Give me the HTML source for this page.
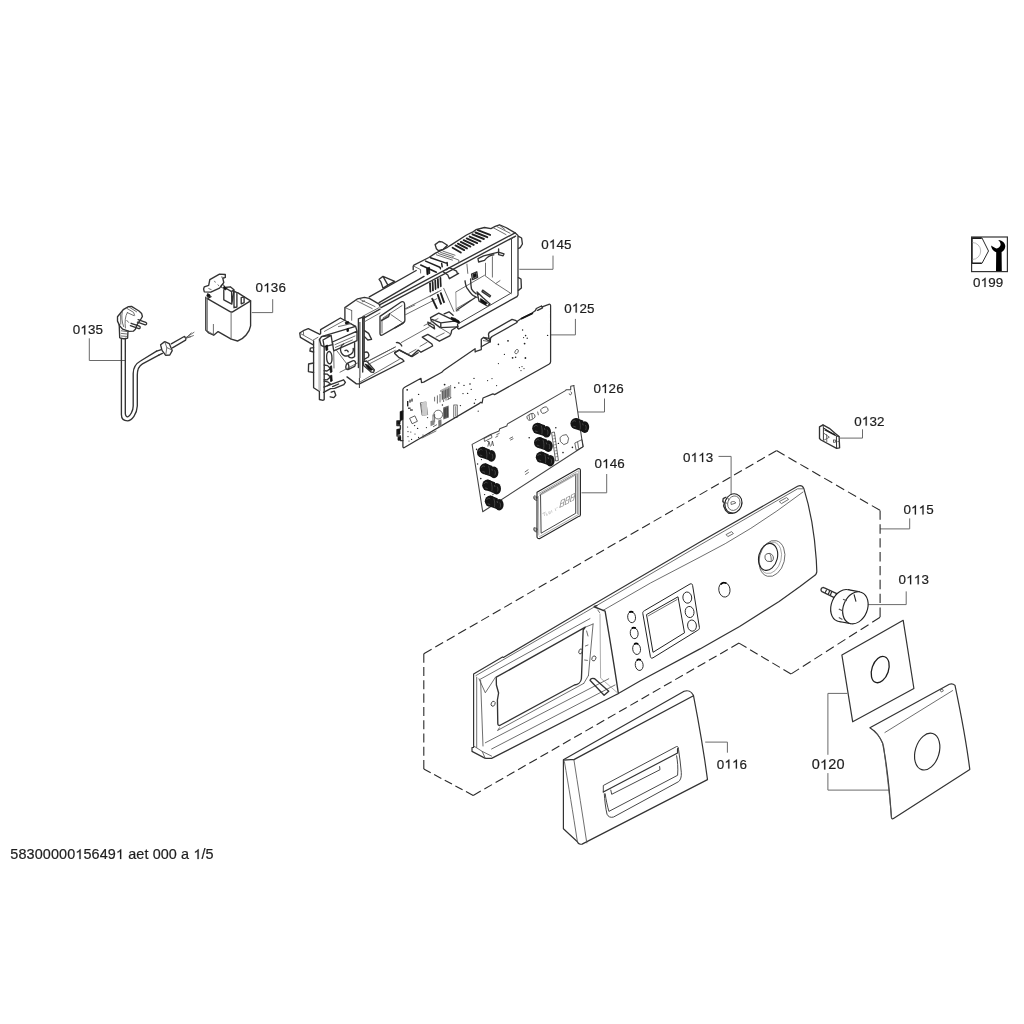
<!DOCTYPE html>
<html><head><meta charset="utf-8">
<style>
html,body{margin:0;padding:0;background:#fff;}
body{width:1024px;height:1024px;overflow:hidden;position:relative;}
svg{position:absolute;left:0;top:0;will-change:transform;}

text{font-family:"Liberation Sans",sans-serif;font-size:13.4px;letter-spacing:0.15px;fill:#1e1e1e;stroke:#1e1e1e;stroke-width:0.2px;}
.l{fill:none;stroke:#333;stroke-width:1.35;stroke-linejoin:round;stroke-linecap:round;}
.t{fill:none;stroke:#555;stroke-width:0.85;stroke-linejoin:round;stroke-linecap:round;}
.g{fill:none;stroke:#777;stroke-width:0.6;}
.ld{fill:none;stroke:#6a6a6a;stroke-width:1;}
.k{fill:#111;stroke:#111;stroke-width:0.8;}
.dash{fill:none;stroke:#2a2a2a;stroke-width:1.1;stroke-dasharray:8 5;}
</style></head>
<body>
<svg width="1024" height="1024" viewBox="0 0 1024 1024">
<g>

<!-- ===== LABELS ===== -->
<g id="labels">
<text x="72.7" y="334.4">0 35</text>
<text x="255.6" y="292.2">0 36</text>
<text x="541.2" y="248.7">0 45</text>
<text x="564.2" y="312.5">0 25</text>
<text x="593.4" y="393.1">0 26</text>
<text x="594.5" y="468.2">0 46</text>
<text x="683" y="462">0  3</text>
<text x="854.2" y="425.6">0 32</text>
<text x="903.4" y="514.4">0  5</text>
<text x="898.6" y="584.3">0  3</text>
<text x="716.8" y="768.6">0  6</text>
<text x="811.7" y="769.4" style="font-size:14.5px;letter-spacing:0.2px">0 20</text>
<text x="973" y="287">0 99</text>
<text x="10.3" y="859.1" style="font-size:14.4px;letter-spacing:0.12px">58300000 5649  aet 000 a  /5</text>
</g>
<defs><path id="one1" d="M763,0 L583,0 L583,1100 Q518,1040 422,985 Q326,930 229,895 L229,1065 Q384,1135 499,1235 Q614,1335 669,1409 L763,1409 Z"/></defs>
<g fill="#1e1e1e" stroke="#1e1e1e"><use href="#one1" transform="translate(80.29,334.40) scale(0.006543,-0.006543)" style="stroke-width:30.6"/><use href="#one1" transform="translate(263.19,292.20) scale(0.006543,-0.006543)" style="stroke-width:30.6"/><use href="#one1" transform="translate(548.79,248.70) scale(0.006543,-0.006543)" style="stroke-width:30.6"/><use href="#one1" transform="translate(571.79,312.50) scale(0.006543,-0.006543)" style="stroke-width:30.6"/><use href="#one1" transform="translate(600.99,393.10) scale(0.006543,-0.006543)" style="stroke-width:30.6"/><use href="#one1" transform="translate(602.09,468.20) scale(0.006543,-0.006543)" style="stroke-width:30.6"/><use href="#one1" transform="translate(690.59,462.00) scale(0.006543,-0.006543)" style="stroke-width:30.6"/><use href="#one1" transform="translate(698.19,462.00) scale(0.006543,-0.006543)" style="stroke-width:30.6"/><use href="#one1" transform="translate(861.79,425.60) scale(0.006543,-0.006543)" style="stroke-width:30.6"/><use href="#one1" transform="translate(910.99,514.40) scale(0.006543,-0.006543)" style="stroke-width:30.6"/><use href="#one1" transform="translate(918.59,514.40) scale(0.006543,-0.006543)" style="stroke-width:30.6"/><use href="#one1" transform="translate(906.19,584.30) scale(0.006543,-0.006543)" style="stroke-width:30.6"/><use href="#one1" transform="translate(913.79,584.30) scale(0.006543,-0.006543)" style="stroke-width:30.6"/><use href="#one1" transform="translate(724.39,768.60) scale(0.006543,-0.006543)" style="stroke-width:30.6"/><use href="#one1" transform="translate(731.99,768.60) scale(0.006543,-0.006543)" style="stroke-width:30.6"/><use href="#one1" transform="translate(819.95,769.40) scale(0.007080,-0.007080)" style="stroke-width:28.2"/><use href="#one1" transform="translate(980.59,287.00) scale(0.006543,-0.006543)" style="stroke-width:30.6"/><use href="#one1" transform="translate(75.28,859.10) scale(0.007031,-0.007031)" style="stroke-width:28.4"/><use href="#one1" transform="translate(115.89,859.10) scale(0.007031,-0.007031)" style="stroke-width:28.4"/><use href="#one1" transform="translate(193.35,859.10) scale(0.007031,-0.007031)" style="stroke-width:28.4"/></g>


<!-- ===== LEADERS ===== -->
<g id="leaders" class="ld">
<polyline points="89.3,338.3 89.3,360.5 125,360.5"/>
<polyline points="272.7,299.2 272.7,312.6 251.8,312.6"/>
<polyline points="553,255.6 553,269.3 519.3,269.3"/>
<polyline points="575.4,318.9 575.4,334.9 550.2,334.9"/>
<polyline points="604.5,398.5 604.5,412 578,412"/>
<polyline points="606.7,474 606.7,492.8 581.5,492.8"/>
<polyline points="718.5,456.4 731.1,456.4 731.1,494.6"/>
<polyline points="862.5,429.3 862.5,438.1 840,438.1"/>
<polyline points="909.7,518.4 909.7,528.9 880.1,528.9"/>
<polyline points="906.2,591.4 906.2,604.6 866.9,604.6"/>
<polyline points="705.2,742.1 727.4,742.1 727.4,752.7"/>
<polyline points="847.3,693.4 827.9,693.4 827.9,754.8"/>
<polyline points="827.9,773.1 827.9,790.1 889.2,790.1"/>
</g>

<!-- ===== DASHED GROUP OUTLINE ===== -->
<g class="dash" style="stroke-dasharray:none"><line x1="776.5" y1="450.6" x2="880.1" y2="510.4" stroke-dasharray="9.36 4.40"/><line x1="880.1" y1="510.4" x2="880.1" y2="617.3" stroke-dasharray="9.44 4.44"/><line x1="880.1" y1="617.3" x2="791" y2="674" stroke-dasharray="9.33 4.39"/><line x1="791" y1="674" x2="739" y2="643.1" stroke-dasharray="8.80 4.14"/><line x1="739" y1="643.1" x2="473.2" y2="795.4" stroke-dasharray="8.80 4.14"/><line x1="473.2" y1="795.4" x2="423.8" y2="769.1" stroke-dasharray="8.18 3.85"/><line x1="423.8" y1="769.1" x2="423.8" y2="653.7" stroke-dasharray="9.04 4.25"/><line x1="423.8" y1="653.7" x2="776.5" y2="450.6" stroke-dasharray="9.02 4.24"/></g>

<!-- ===== 0135 cord ===== -->
<g id="p0135">
<path class="l" d="M121.4,338.4 L121.4,414.5 C121.4,419 124,420.8 127.5,420.8 C132,420.6 136.9,414 137.3,406 L137.3,375 C137.3,369 139.5,365.5 142.5,363.8 L158.8,355.2"/>
<path class="l" d="M125.3,338.4 L125.3,413.5 C125.5,416 126.6,417 127.8,416.8 C130,416.2 133.2,411 133.2,406 L133.2,373.5 C133.2,368 136,363.5 140.5,361 L156.6,351.2"/>
<path class="l" d="M156.6,351.2 L160.6,349.8 M158.8,355.2 L162.4,353.4"/>
<path class="l" d="M160.6,344.8 L164.7,341.6 L169.2,343.6 L172.2,350.6 L169.8,355 L165.7,355.4 L162,350.4 Z"/>
<path class="t" d="M164.7,341.6 L166.8,347.6 L165.7,355.4 M166.8,347.6 L172,350"/>
<path class="l" d="M171.2,343.9 L184.2,336.5 M172.4,347.8 L185.6,340.2 M184.2,336.5 C185.6,337 186.2,339 185.6,340.2"/>
<path class="t" d="M185.4,338 L194,332.3 M185.4,338.6 L193.4,335.6 M185.6,338.4 L191.2,333 M185.2,337.6 L190.6,336.8"/>
<path class="l" d="M117.5,321.1 L117.5,316.7 L123.2,309.7 L128.5,306.6 L131.5,306.4 L139,311 L141.6,313.4 L142.4,316.5 L141,318.8 L138.6,322.4 L136.8,325.2 L135.4,329.2 L133.3,331.2 L128.9,331.4 L122.7,329.2 L119.6,325.6 Z"/>
<path class="t" d="M120.6,314.6 L120.8,324.2 M122.2,312 C121.4,316 121.8,322 123.6,326.6 M127.3,312.6 C125.2,316 124.6,322 125.4,328 M127.2,308.6 L133.6,312.4 L134.6,315.4 M129.6,307.4 L136.6,311.8 M127.3,312.6 L133.8,315.6 M126.8,320.4 L128.6,322.4"/>
<path class="l" d="M138.1,319.6 L145.8,322.4 C147.2,323 146.8,325 145.2,324.8 L137.4,322.2 M131.1,323.3 L139.4,326.2 C140.8,326.8 140.2,329 138.8,328.6 L130.4,325.6"/>
<path class="l" d="M119.2,324.6 L119.7,337.8 C121.5,339 126,339 127.6,338.2 L128,330.8"/>
<path class="t" d="M121.4,330.8 L127.1,331.6 M121.2,333.4 L127.1,334 M121.2,336 L127.1,336.4"/>
</g>

<!-- ===== 0136 capacitor ===== -->
<g id="p0136">
<path class="l" d="M207.4,298.6 L229.6,311.4 C230.8,312.2 232,312.2 233,311.6 L250.6,300.9 L250.6,325.8 C249.6,332 244,339 237.6,341 L231.2,339.2 L218.1,331.6 L213.7,335.2 L208.7,333 L205.8,330.1 L205.8,297.2"/>
<path class="l" d="M250.6,300.9 L237.6,292.6 M207.4,298.6 L211,296.6"/>
<path class="t" d="M231.1,312.6 L231.1,339.2 M213.4,324.4 L213.4,334.5 M207.3,296.6 L207.3,330.4 M205.8,330.1 L213.4,334.5"/>
<path class="l" d="M203.6,289 L204.3,286.8 L208.7,285.3 L209.8,279.6 L219.5,274.1 L225.3,274.5 L225.3,277.4 L222.8,278.4 L223.8,282.5 L221.7,285.3 L219.5,288.2 L210.8,292.2 L204.3,291.8 Z"/>
<path class="t" d="M208.8,288.6 L211.2,289.6 M214.6,281.2 L215.2,282.2 M218,284.8 L218.6,285.6 M221.4,277 L224.2,277.6"/>
<circle cx="222.6" cy="286.2" r="1.6" fill="none" stroke="#222" stroke-width="0.9"/>
<path class="l" d="M223.8,290.4 L223.8,299.8 L231.8,304.1 L233.4,294.2 L234,289.7 L230.3,286.8 L224.6,287.5 Z M224.6,287.5 L231.6,291.6 L234,289.7 M231.6,291.6 L231.8,304.1"/>
<path class="l" d="M234,291.1 L236.9,292.6 L236.9,307 L234,307.7 Z M241.2,297.6 L244.1,296.9 L244.1,302.7 L241.2,303.8 Z"/>
<path class="k" d="M207.6,293.6 L210.2,295 L209.4,297.2 L206.8,296 Z M224.4,286.2 L226.6,288.6 L225.6,290 L223.6,288.4 Z"/>
</g>

<!-- ===== 0145 frame ===== -->
<g id="p0145">
<!-- left tab + post -->
<path class="l" d="M312.8,344.6 L300.4,337.3 L299.7,333 L303.3,330.7 L308.3,328.6 L319.9,334.4"/>
<path class="t" d="M300.6,333.6 L312.6,340.4 L318,337.3 M303.3,330.7 L303.6,334.6"/>
<path class="l" d="M313.6,341 L313.6,387.8 L319.4,391.5 L319.4,399.5 L323.1,400.3 L324.2,399.6 L324.2,346.8"/>
<path d="M319,339.6 L319,391 M320.2,339 L320.2,391" stroke="#777" stroke-width="0.6" fill="none"/>
<path class="l" d="M319.4,339.5 L321.6,336.6 L331.1,335.4 L332.6,344.6 L324.2,346.8 L321.2,345.4 L319.4,339.5 M324.2,346.8 L323,340 L331.1,335.4"/>
<path class="l" d="M313.6,347.6 L310.4,348.2 L309.9,351 L313.6,352 M313.6,363 L308.6,364 L308.4,371.6 L313.6,372.5"/>
<path class="l" d="M328.6,351.6 C326.8,352.2 326.4,356 326.8,359.6 C327.2,362.6 328.8,364.2 330.4,363.6 C331.8,362.6 332.2,359 331.8,355.6 C331.4,352.6 330,351.2 328.6,351.6 Z"/>
<path class="l" d="M324.2,365 L327.6,365.6 L330.4,368.6 L327,371 L324.2,370.6 M324.2,374 L327.4,374.2 L330.4,377 L327.2,379.8 L324.2,379.6 M324.2,381.2 L327.6,381.8 L330.4,384 L327.4,385.6"/>
<path class="l" d="M323.8,387.1 L343.6,379.8 L345.4,382.4 L343.8,384.6 L334.6,388.4 L330.6,388.6 L323.6,392.4 M332.6,386.6 L338.6,384"/>
<path class="l" d="M331.2,392.2 L334.4,391.2 L335.8,395.2 L333.8,397.6 L330.2,396.8"/>
<path class="k" d="M325.6,345.8 L327.4,345 L327.8,350 L326,350.6 Z M330,366.4 L331.6,365.8 L332,372 L330.4,372.6 Z M330.2,375.8 L331.8,375.2 L332.2,381 L330.6,381.6 Z"/>
<!-- block A -->
<path class="l" d="M320.6,333.6 L320.6,329.6 L340.4,318 L355.6,326.3 M321.4,336.6 L355.6,326.3 M332.4,342 L357,331.1 L357,340.7 L333.7,350.9 L332.4,342 M355.6,326.3 L357,331.1"/>
<path class="t" d="M324.4,331.4 L344.4,320.4 M338.4,326.6 L351.4,323.6 M335,344.6 L355,336 M335.4,347.4 L352.4,340"/>
<path class="l" d="M343.6,344 C340.6,345.6 339.6,349.6 341.2,352.6 C342.4,355.4 345.4,356.8 348,355.6 L350.6,354.4 C352.6,353.2 353.6,351 353.2,348.4 M345,350.6 C346.4,349.6 347.8,350.4 348.2,351.8 M348,355.6 C349,357.6 351,358.4 353.4,357.4 L354.6,356.4 L354.6,342.6"/>
<path class="l" d="M346.6,363.6 L352.6,360.8 C354.8,360 356.2,362.2 355.4,364.6 L354.6,366.4 L348.6,369.4 C346.6,370 345.6,368.6 345.8,366.6 Z M346.6,363.6 C348.6,363.2 349.4,365.6 348.6,369.4"/>
<path class="t" d="M333.7,350.9 L334,368 M336,349.6 L346.6,363.6"/>
<path class="k" d="M345.2,322.6 L348.4,321.6 L348.8,323.2 L345.8,324.2 Z M346.8,329 L348.4,328.4 L348.6,331.2 L347,331.6 Z"/>
<!-- block B -->
<path class="l" d="M344.9,320.3 L344.9,307.6 L357.6,298.8 L364.4,297.4 L369.3,298.3 L379.1,304.2 L380,306.2"/>
<path class="t" d="M351.7,310.5 L351.7,320.3 M344.9,307.6 L351.7,310.5 M356.6,300.8 L372.2,308.6 M360,299.4 L375,306.6 M362.2,301.8 L364.6,300.8"/>
<!-- vertical post 2 -->
<path class="l" d="M358.4,318.8 L358.4,367.5 M362.7,318 L362.7,372 M364.2,317.4 L364.2,361.25 M358.4,318.8 L364.5,316.4"/>
<path d="M359.9,322 L359.9,378 M359.4,378 L359.4,388" stroke="#222" stroke-width="0.9"/>
<path class="l" d="M364.5,330.6 L368.6,333.4 L371.6,339.4 L367.8,340 L364.5,336.6 M364.5,352.4 C367.6,351 369.8,353.6 368.4,357 L364.5,359.2"/>
<path class="l" d="M347,376.9 L356.4,383.9 L359.5,383.9 L404,361.25 L402.5,359.3 L398.6,357.3 L394.7,353.4 L394.7,352.3 L399.4,349.9 L411.9,356.6 L418.1,352.7"/>
<path class="t" d="M359.5,382.3 L399.4,359.3 M340,372.2 L358,362.8 M368.1,361.25 L395.3,347"/>
<path class="l" d="M363.4,361.6 L366.6,361 L374.4,370 L373.6,372.4 L371,372 L363.6,365.6 Z"/>
<path class="k" d="M365,364 L368.6,365.4 L373.4,370.4 L372.6,371.6 L368,368.6 Z"/>
<circle cx="372.4" cy="370.8" r="0.9" fill="#fff"/>
<!-- box C -->
<path class="l" d="M380,316.4 L401.5,301.8 C403.4,301 404.6,302.6 404.6,304.6 L404.9,320.3 C404.9,321.8 404,322.8 402.5,323.4 L382.4,335 C381,335.6 380,335 380,333.6 Z"/>
<path class="t" d="M381.8,319.8 L388.8,315.2 M382,319.8 L382,333 M390.8,314.5 L402.5,322.6 M383,318 L402,305.6"/>
<path class="l" d="M381.4,320.6 L388.6,316.6 L389.6,313.6"/>
<!-- rails -->
<path class="l" d="M369.3,296.9 L416.2,270.5 M379.1,302.7 L424,276.4 M380,304.7 L515.1,232.9 M381,307.6 L515.6,236.1 M363.4,318.4 L380,309.2"/>
<path class="t" d="M362.5,316.4 L379.1,307.6 M364,322 L380,313"/>
<path class="l" d="M379.1,279.3 L383,276.4 L394.7,281.3 L387.9,285.2 L383,288.1 L381,282.2 Z M383,276.4 L387.9,285.2"/>
<!-- housing D + ribbed top -->
<path class="l" d="M413.2,269.8 L413.2,266.4 L413.9,265.1 L428.9,257.5 L435.1,253.4 L447.4,247.3 L452.8,243.9 L466.5,235 L473.4,231.6 L475.9,229.7 L484.5,227.5 L490.9,228.6 L495.2,226.4 L499.5,224.8 L505.9,227.5 L515.1,232.9"/>
<path class="l" d="M435.1,244.6 L439.2,241.5 L441.9,241.8 L447.4,245.2 L443.3,249.3 L438.5,250.7 L436.4,248.7 Z"/>
<path d="M452.6,247.8 L460.8,252.5 M455.5,245.4 L464.2,250.1 M457.9,243.7 L467.0,248.4 M460.8,241.9 L470.4,246.6 M463.7,240.2 L473.7,244.9 M466.7,238.4 L477.2,243.1 M469.6,236.6 L480.5,241.3 M472.5,234.3 L483.9,239.0 M475.5,232.5 L487.3,237.2 M477.8,230.2 L490.1,234.9" fill="none" stroke="#222" stroke-width="1.9" stroke-linecap="round"/>
<path class="l" style="stroke-width:1.5;stroke:#222" d="M420.7,265 L436.4,272.3 M425.6,261.1 L439.3,267 C440.2,267.4 440.6,268 440.4,268.8 M430.5,257.7 L446.1,263.1 M441.7,263.6 L442.2,266.8 M447.1,262.6 L447.4,265.6"/>
<path class="t" d="M436.4,254.8 L452.5,260.1 M438.6,253.6 L452,258 M440.6,252.4 L453.4,256.6 M443,251.2 L455,255.2 M452.5,257.7 L458.8,260.1 L458.8,262.6"/>
<path class="t" d="M413.4,266 L420.6,269.6 L420.6,273"/>
<path class="k" d="M426.6,268.4 L427.8,268 L428.2,274.4 L427,274.8 Z M428.4,267.6 L429.4,267.2 L429.8,273.4 L428.8,273.8 Z"/>
<path class="l" d="M446,269.9 L449.4,267.6 L456.6,271.2 L457.6,274 M443,271.6 L447.8,275 L449.4,278.7 L458.6,273.4"/>
<path class="t" d="M493.4,227.8 L506,234.6 M497,226.6 L510,233.2 M500,225.6 L505,229.6"/>
<!-- right box -->
<path class="l" style="stroke-width:1.3" d="M515.6,233.3 L518,235.4 L518,295 L517,296.6 L458.6,329.1 L457.6,328.2 L457.6,324"/>
<path class="l" d="M518.6,236.4 L521.6,238 L522.4,244 L520.2,247.6 L518.6,248.4 M518.4,277.6 L521,279 L521.4,288 L518.4,290.4"/>
<path class="t" style="stroke:#444;stroke-width:1" d="M511.5,238.6 L511.5,292.9 L458.4,323.6 M511.5,238.6 L515.4,236.4"/>
<path class="t" d="M455.8,292 L484.5,275.3 L495.7,283.6 L511.5,293.8 M485.5,263.2 L485.5,275.3 M492.4,256.7 L492.4,277.1 M443.7,288.3 L453.9,311.5 M456.2,308.7 L470.6,300.3 M495.7,283.6 L500,280.6 M466.9,264.1 L467.8,273.4"/>
<path d="M455.8,292 L456.2,311.5 M456.2,311.5 L459.6,310" fill="none" stroke="#999" stroke-width="1"/>
<path class="l" d="M456.7,310.2 L475.3,297.5"/>
<path class="l" d="M478,258.6 L483.6,255.8 L498.5,252.1 L504,253.9 L503.1,255.8 L498.6,254.6 M484.5,260.4 C487,257 490,255 493.8,254.8 M478,258.6 L478.6,262 L484.5,260.4 M498.6,249 L498.6,254.6"/>
<path class="l" d="M465,280.8 C465.6,285 466.4,288 467.8,289.2 C469.6,292 471.6,294.6 473.4,295.7 L477.1,297.5 M470.6,279 C470.8,284 471,287 471.6,289.2 C473,291.6 474.6,293 476.2,293.8"/>
<path class="l" d="M477.1,292 L482.7,297.5 L490.1,304 L487.3,305.9 L479,301.2 Z"/>
<path class="k" d="M480.6,298.6 L486.6,302.6 L488.4,304.4 L486.6,305.2 L480.6,301.6 Z"/>
<circle cx="487.3" cy="304.6" r="1" fill="#fff"/>
<path class="l" d="M482.7,290.1 L490.6,295.7 L489.8,297 L482,291.6 Z"/>
<path class="l" d="M471.6,274.2 L476.8,271.8 L477.6,277.4 L472.4,279.6 Z"/>
<path class="k" d="M473,274.6 L476,273.4 L476.4,276.6 L473.4,277.8 Z"/>
<!-- tongue / floor -->
<path class="l" d="M430.5,317.6 L438.75,313.2 L459.25,322.8 M430.5,317.6 L431.2,320.7 L440.1,327.6 L457.9,326.9 M440.8,322.8 L440.8,327.6 M431.9,319.4 L440.8,322.8 L457.9,320.6"/>
<path class="l" d="M444.2,313.9 L449,311.8 L453.1,315.3"/>
<path class="k" d="M451,317.3 L455,318.4 L459.3,321.2 L459.3,322.8 L455.6,321.8 L451.6,319.4 Z"/>
<path class="l" d="M457.9,326.2 L451.7,330.3 L451,333.7 L449.7,335.8 L439.4,341.2 L427.8,334.4 L422.3,337.1 L431.9,344 L432.6,346 L421,352.2 L418.2,350.1 L411.4,356.3 L399.1,350.1 L395,352.8"/>
<path class="t" d="M436,337.1 L444.2,333 M427.1,342.3 L420,346.4 M408.7,353.5 L416,349.4 M440.1,327.6 L449.6,333.4"/>
<path class="l" d="M427.8,322.1 L434,325.5 L434.6,328.9 L428.5,324.8 Z"/>
<path class="l" d="M396.4,342.6 C398,342 400.6,343.6 401.8,346"/>
<path class="t" d="M401.2,342.6 L429.2,326.9 M405.9,309.1 L414.8,305 M366.6,361.8 L395.3,347 M368,364.6 L395.3,350.4 M405.4,308.6 L437.7,292 M404.9,315 L437,298.6"/>
<path class="l" d="M404.6,321.4 L403.2,323.1 L395,327.9"/>
<!-- connector pins -->
<path class="k" d="M429.6,283 L430.4,282.8 L430.8,292 L430,292.2 Z M432.2,281.6 L433,281.4 L433.4,290.8 L432.6,291 Z M434.8,280.2 L435.6,280 L436,289.4 L435.2,289.6 Z M437.4,278.8 L438.2,278.6 L438.6,288 L437.8,288.2 Z M440,277.6 L440.8,277.4 L441.2,286.6 L440.4,286.8 Z"/>
<path class="k" d="M431.6,298.6 L432.6,298.2 L437.4,308.4 L436.4,308.8 Z M437.2,294.6 L438.2,294.2 L441.6,304 L440.6,304.4 Z M440.2,293 L441.2,292.6 L444.6,302.4 L443.6,302.8 Z"/>
<path class="t" d="M430,296.4 L436,293 L441.2,290.2 M424,325.6 L438,318.6"/>
</g>

<!-- ===== 0125 PCB ===== -->
<g id="p0125">
<path class="l" style="stroke-width:1.25" d="M404,447.7 L479.5,403.4 L480.6,402.3 L482.1,402.9 L483,398 L492.9,393.8 L494.6,394.6 L548.9,364.3 C550,363.6 550.6,362.8 550.6,361.8 L550.6,305.6 C550.6,304.6 549.8,304 548.9,304.3 L542.2,306.8 M535.5,310.6 L532.1,313.1 L521.2,318.6 L517,321.5 M490.2,341.7 L481.3,346.7 L481.3,349.6 L476,351.4 L475.1,352 L475.1,348.7 L443.4,370.6 L441.8,372.3 L423.7,382.1 L421.5,382.6 L421,378.3 L405.1,387 C403.6,387.8 402.9,388.4 402.9,389.6 L402.9,446.6 C402.9,447.4 403.4,447.9 404,447.7"/>
<path class="l" d="M542.2,306.8 L541.4,306 L536.3,308.5 L535.5,310.6 M541.4,306 L542.6,307.8 L537.6,310.4"/>
<path class="l" d="M517,321.5 L515.4,320.3 L512,319.4 L489.3,332.4 L488.5,334.1 L488.9,338.3 L490.2,341.7 M517,321.5 L517,322.5 L492,336.5 L490.6,338 L490.2,341.7"/>
<path class="l" d="M488.9,338.3 L483.4,337.5 L481.3,339.2 L481.3,346.7 M483.4,337.5 L490.2,341.7"/>
<path class="t" d="M483.4,340.6 L488.6,341.4"/>
<path class="k" d="M532.6,312.8 L521.2,318.2 L521.4,319.2 L532.8,313.8 Z"/>
<!-- left connector -->
<path class="l" d="M402.9,411 L400.4,412 L400.4,421 L396.9,421 L396.9,425.6 L400.4,425.6 L400.4,429 L397,429.6 L397,436 L400.4,436 L400.4,440.6 L402.9,440.6"/>
<path class="k" d="M400.6,412 L402.8,411.4 L402.8,419.6 L400.6,420.4 Z M397.4,429.8 L400,429.2 L400,434 L397.4,434.6 Z M397.4,421.2 L400,421.2 L400,424.4 L397.4,424.4 Z M398,437.2 L400.6,437 L400.6,440 L398,440.2 Z"/>
<!-- components -->
<g fill="none" stroke="#333" stroke-width="0.7">
<rect x="421.2" y="402.4" width="5.6" height="12.6" transform="rotate(-8 424 408.7)"/>
<rect x="422.4" y="404" width="3.4" height="9.4" transform="rotate(-8 424 408.7)"/>
<rect x="410.6" y="416.8" width="5.8" height="6" transform="rotate(-25 413.5 419.8)"/>
<circle cx="438.2" cy="414.6" r="4.4"/>
<rect x="453.8" y="405" width="3.4" height="12.6"/>
<rect x="455" y="406.2" width="1.2" height="10.4" fill="#999" stroke="none"/>
<path d="M443.6,389 L443.6,402 M446,387.6 L446,400.6 M448.4,386.4 L448.4,399.4 M450.6,385 L450.6,398.2 M437.4,395.4 L437.4,403.6 M440,394 L440,402.4 M434.6,396.8 L434.6,401.4"/>
<path d="M433,414.6 L433,423 M434.6,414 L434.6,422.4 M444.4,408.4 L444.4,419 M446.2,407.6 L446.2,418 M447.8,406.8 L447.8,417.2"/>
<ellipse cx="516.6" cy="351.6" rx="1.5" ry="2.3" transform="rotate(30 516.6 351.6)"/>

</g>
<g fill="#222">
<rect x="407" y="401" width="1.4" height="5.4"/><rect x="409.4" y="399.6" width="1.2" height="3"/><rect x="411.4" y="398.6" width="1.2" height="3"/>
<rect x="408" y="407.6" width="2.6" height="1.2"/><rect x="410" y="409.4" width="2.8" height="1.2"/>
<circle cx="407.2" cy="389.8" r="0.9"/><circle cx="418.6" cy="394.4" r="0.7"/><circle cx="444.6" cy="384.6" r="0.9"/><circle cx="441" cy="391" r="0.7"/>
<circle cx="454.8" cy="387.6" r="0.8"/><circle cx="458.8" cy="383" r="0.7"/><circle cx="464" cy="385.4" r="0.7"/><circle cx="470" cy="384" r="0.8"/><circle cx="474" cy="378.4" r="0.7"/>
<circle cx="463" cy="393.6" r="0.7"/><circle cx="467.6" cy="393.4" r="0.7"/><circle cx="474.4" cy="403.2" r="0.8"/><circle cx="460.4" cy="405.6" r="0.7"/><circle cx="442.4" cy="405" r="0.7"/>
<circle cx="427.6" cy="417.6" r="0.6"/><circle cx="414.6" cy="425.6" r="0.7"/><circle cx="417.6" cy="428.4" r="0.7"/><circle cx="407.6" cy="427" r="0.6"/><circle cx="408" cy="431.6" r="0.6"/><circle cx="410.8" cy="432" r="0.6"/><circle cx="415" cy="434" r="0.6"/><circle cx="408" cy="436.6" r="0.6"/><circle cx="411.6" cy="439.4" r="0.6"/><circle cx="418.6" cy="437.4" r="0.6"/><circle cx="409" cy="441" r="0.6"/>
<circle cx="429.6" cy="433" r="0.6"/><circle cx="423" cy="435" r="0.6"/><circle cx="431.4" cy="421.4" r="0.6"/><circle cx="426.4" cy="427.6" r="0.6"/>
<circle cx="498.4" cy="344.4" r="0.8"/><circle cx="508" cy="340.8" r="0.9"/><circle cx="504.4" cy="354.4" r="0.6"/><circle cx="498.4" cy="363.6" r="0.6"/><circle cx="515.6" cy="357.2" r="0.8"/>
<circle cx="522.6" cy="330" r="0.7"/><circle cx="523.6" cy="337.6" r="0.6"/><circle cx="525.6" cy="335.6" r="0.8"/><circle cx="527.2" cy="338.2" r="0.7"/><circle cx="524.6" cy="343.6" r="0.9"/>
<circle cx="512.6" cy="357.8" r="0.9"/><circle cx="525.4" cy="358" r="0.9"/><circle cx="522" cy="366.6" r="0.6"/><circle cx="519.4" cy="367.6" r="0.6"/><circle cx="524" cy="368.6" r="0.6"/><circle cx="521" cy="370.6" r="0.6"/>
<circle cx="487.6" cy="380.6" r="0.6"/><circle cx="492" cy="378.6" r="0.6"/><circle cx="496.6" cy="385.6" r="0.6"/><circle cx="547.6" cy="335.4" r="0.7"/>
<circle cx="475.6" cy="399.6" r="0.6"/><circle cx="471.2" cy="389.4" r="0.6"/><circle cx="478.2" cy="411.2" r="0.6"/>
</g>
<path class="t" d="M422,438 L436,431 M433.4,426.6 L436.6,424.8 M447.6,399.6 L451,397.8"/>
<g fill="#555">
<path d="M441.4,389.6 L450.8,385.6 L451,396.6 L441.6,400.6 Z" fill="#aaa"/>
<path d="M443.2,407.6 L448.6,405.6 L448.8,417.4 L443.4,419.4 Z" fill="#666"/>
<path d="M438.2,420.4 L441.4,419.2 L441.6,426 L438.4,427.2 Z" fill="#777"/>
<path d="M421.6,402.6 L426.8,401.4 L427.6,414.8 L422.4,416 Z" fill="#ccc"/>
<path d="M430.4,421.6 L434.4,420 L434.6,424.6 L430.6,426.2 Z" fill="#888"/>
</g>
<g stroke="#222" stroke-width="0.6" fill="none">
<path d="M442.4,391 L442.4,399.4 M444,390.4 L444,398.8 M445.6,389.6 L445.6,398 M447.2,389 L447.2,397.4 M448.8,388.2 L448.8,396.6"/>
<path d="M444.2,408.6 L444.2,418 M445.8,408 L445.8,417.4 M447.4,407.4 L447.4,416.8"/>
</g>
</g>

<!-- ===== 0126 PCB with knobs ===== -->
<defs>
<g id="knob">
<ellipse cx="-3.8" cy="-1.4" rx="5.4" ry="5.6" fill="#151515"/>
<path d="M-3.8,-7 L3.6,-4.4 L5.6,7.4 L-3.8,4.2 Z" fill="#151515"/>
<ellipse cx="5.2" cy="2.1" rx="4.4" ry="5.8" fill="#151515"/>
<path d="M-7.4,-2.6 C-6.6,-4.6 -4.8,-4.8 -3.8,-3.6 M-6.4,1.2 L-3.8,2 M-0.2,-4.2 C0.8,-1 1,2 0.4,4.6 M3,-1.6 L3.6,0.4 M5.8,0 C6.8,1.6 6.8,3.6 6,5" stroke="#666" stroke-width="0.55" fill="none"/>
</g>
</defs>
<g id="p0126">
<path class="l" style="stroke:#444;stroke-width:1.05" d="M574.1,385.6 L573.8,385.7 L583,446.8 L482.7,511.7 L472.1,444.4 L490.5,434.5 L499,431 L499.7,428.8 L506.8,426 L507.5,423.9 L565.5,390.6 L566.3,389.7 L570.7,389.7 L570.7,386.2 Z"/>
<use href="#knob" x="486.2" y="453.8"/>
<use href="#knob" x="488.8" y="470.3"/>
<use href="#knob" x="491.4" y="486.6"/>
<use href="#knob" x="494" y="502.6"/>
<use href="#knob" x="541.4" y="429.7"/>
<use href="#knob" x="543.2" y="444"/>
<use href="#knob" x="545" y="458.6"/>
<use href="#knob" x="579.6" y="425"/>
<g fill="none" stroke="#2a2a2a" stroke-width="0.7">
<path d="M562.6,435.4 L566.4,434.6 L568.6,438.2 L567.6,443 L563.8,444.6 L560.4,441.6 L560,437.6 Z"/>
<path d="M574.8,443 L582,439.6 L583.4,446.6 L576.2,450.4 Z M577.6,441.8 L578.6,448.6"/>
<rect x="526.8" y="414" width="8.4" height="5.6" rx="2.8" transform="rotate(-28 531 416.8)"/>
<rect x="540.6" y="407.4" width="7.6" height="5.4" rx="2.7" transform="rotate(-28 544.4 410.1)"/>
<path d="M529,415 L529.6,419.6 M531.8,414 L532.4,418.6 M537.6,411.6 L538.4,415.2"/>
<path d="M551.6,432.6 L554.4,432 L558.4,460.4 L555.6,461 Z"/>
<path d="M487.8,446.6 L489,441.6 L490.4,446.6 M491.6,445.6 L492.4,441 L493.6,446"/>
<path d="M484,438.6 L491.4,434.8 L492,437.6 L484.6,441.4 Z"/>
<path d="M496.4,434.8 L499.6,433.2 M495.4,437.4 L498.2,435.8"/>
<path d="M509.4,438.6 L513,436.8 M510.2,440.2 L513.4,438.6"/>
<path d="M524.8,472 L528.4,469.6 M525.2,474.6 L528.8,472.2"/>
<path d="M491.6,492.8 L494.4,491.2 M492,495 L494.8,493.4"/>
<path d="M570.6,391.6 C571.6,392 572,393.6 571,394.6 C570,395.2 569,394.4 569.2,393.4"/>
</g>
<g fill="none" stroke="#444" stroke-width="0.5">
<path d="M552.4,436 L555.2,435.4 M552.8,439 L555.6,438.4 M553.2,442 L556,441.4 M553.6,445 L556.4,444.4 M554,448 L556.8,447.4 M554.4,451 L557.2,450.4 M554.8,454 L557.6,453.4 M555.2,457 L558,456.4"/>
</g>
<g fill="#222">
<circle cx="555.8" cy="427.8" r="0.8"/><circle cx="529.2" cy="437.8" r="0.8"/><circle cx="545.6" cy="436.6" r="0.7"/><circle cx="563" cy="452.6" r="0.8"/><circle cx="558.4" cy="443.4" r="0.7"/><circle cx="572.4" cy="447.4" r="0.8"/><circle cx="476.6" cy="449.4" r="0.8"/><circle cx="477.6" cy="464" r="0.7"/><circle cx="480.8" cy="478.6" r="0.8"/><circle cx="484.6" cy="494.6" r="0.7"/><circle cx="488" cy="441.4" r="0.7"/><circle cx="481.4" cy="459.6" r="0.6"/>
</g>
</g>

<!-- ===== 0146 display window ===== -->
<g id="p0146">
<path d="M537,492.2 L578,468.8 C579.6,468.2 580.4,469 580.4,470.5 L580.4,515 C580.4,516 579.6,516.6 578,516.8 L539.9,538.5 C538.4,539 537,538.2 537,536.7 Z" fill="none" stroke="#222" stroke-width="1.1"/>
<path d="M540.5,494 L575.7,474 L575.7,513.3 L541.1,533.2 Z" fill="none" stroke="#333" stroke-width="0.9"/>
<path d="M538.6,493.6 L578.6,470.6 M539,495.4 L577.4,473.4 M538.4,496 L538.8,535.4 M578.8,471 L578.8,515.4 M539.2,536.8 L578.6,514.4" fill="none" stroke="#777" stroke-width="0.6"/>
<path d="M577.4,473.4 L577.6,514" fill="none" stroke="#999" stroke-width="1.4"/>
<path d="M540.8,494.6 L575.6,474.6" fill="none" stroke="#aaa" stroke-width="1.6"/>
<path d="M534.6,495.4 C533.2,496.6 533.4,499.4 535.2,500 L537.2,500.4 M535.4,497.4 L537,497.6 M534.6,527 C533.2,528.2 533.4,531 535.2,531.6 L537.2,532 M535.4,529 L537,529.2" fill="none" stroke="#333" stroke-width="0.8"/>
<circle cx="535.8" cy="497.6" r="1.5" fill="none" stroke="#333" stroke-width="0.7"/>
<circle cx="535.8" cy="529.4" r="1.5" fill="none" stroke="#333" stroke-width="0.7"/>
<g fill="none" stroke="#8a8a8a" stroke-width="0.75" transform="translate(560.2,501) skewX(-12) skewY(-28)">
<path d="M1,0 h3 v3.4 h-3 z M1,3.4 v3.6 h3 v-3.6 M5.6,-0.4 h3 v3.4 h-3 z M5.6,3 v3.6 h3 v-3.6 M10.2,-0.8 h3 v3.4 h-3 z M10.2,2.6 v3.6 h3 v-3.6"/>
</g>
<g fill="none" stroke="#a0a0a0" stroke-width="0.5">
<path d="M542.4,513.6 L545.6,512 M544,512.8 L544.6,516 M546,512.8 L546.6,515.4 L548,514.6 M548.6,511.6 L549.2,514 L550.4,513.4 L549.8,511 M551.4,510.2 L552,512.6 M555.2,508.4 L555.8,511 M556.4,508 L557.6,507.4"/>
</g>
</g>

<!-- ===== 0115 panel ===== -->
<g id="p0115">
<!-- outer -->
<path class="l" style="stroke-width:1.2" d="M473.6,674.1 L502.5,656.9 L503.4,657.4 L583.75,610 L595,603.6 L700,542.1 L797.6,486.2 C800,485.2 802.6,485.8 803.8,488.4 C810,508 814.6,535 816.3,560 L816.8,571.4 C816.8,573.4 815.6,575 813.6,576.2 L800,586.5 L779.1,601.4 L739.6,626.5 L700,648.9 L640,681 L618.3,693.6 L615,695.2 L491.6,758.4 L485.3,758.4 L472,751.4 L472,747.5 L473.6,747.5 Z"/>
<path class="t" d="M475.9,675.6 L583.75,613.1 L595.6,606.2 L700,545 L797.6,488.8 L802.6,488.8"/>
<path class="t" d="M479.8,679.5 L590,618.6 M479,678.8 L485.3,692.8 L495.5,677.2 M476.7,677.2 L476.7,747.5 M480.6,680.3 L483,746 M473.6,745.9 L482.2,751.4 L491.6,756.1 M485.3,742.8 L608.75,678.75 M491.6,749 L615,685 M482.2,751.4 L485.3,758.4"/>
<path class="t" d="M603,610.4 Q650,582 700,557.1 T803,492"/>
<path class="t" d="M779.6,501.4 L786.6,497.6 L788.6,499.4 L781.8,503.4 Z M726.4,534.4 L731.6,531.6 L733.4,533.6 L728.2,536.4 Z"/>
<!-- window cut-out -->
<path class="l" d="M496.25,677.2 L585.3,627.2 L583.2,630 C582.4,645 582.2,662 581.4,678.75 C581,682 578,684.6 574.4,685 L500.6,725 C499,726 497.8,725.2 497.8,723.6 L497.4,700 L498.6,693 L496.4,685 Z"/>
<path class="t" d="M497.8,730.3 L583.75,683.4 M593.1,624 L588.4,675.6 M585.3,627.2 L593.1,624 M588.4,675.6 L583.75,683.4 M499.4,727.8 L497.8,730.3 M586.6,631 L588,636 M585.4,646 L588,645 M584.6,660 L587.4,660.4"/>
<ellipse cx="493.1" cy="703.75" rx="1.9" ry="2.6" fill="none" stroke="#333" stroke-width="0.8" transform="rotate(25 493.1 703.75)"/>
<ellipse cx="580.6" cy="651.4" rx="1.7" ry="2.6" fill="none" stroke="#333" stroke-width="0.8" transform="rotate(20 580.6 651.4)"/>
<ellipse cx="593.9" cy="658.4" rx="1.9" ry="2.6" fill="none" stroke="#333" stroke-width="0.8" transform="rotate(25 593.9 658.4)"/>
<path class="l" d="M590,680.3 C590.4,678.6 592.4,678 594.7,678.75 L608.75,691.25 L604.1,695.2 Z"/>
<!-- divider -->
<path class="l" d="M594.2,606.3 L597,605.6 M594.6,607 L605.1,611.1 C610,640 614.6,668 618.3,693.1"/>
<path d="M600,613.6 L600.6,678.1 L617.8,693.1" fill="none" stroke="#999" stroke-width="0.8"/>
<path class="t" d="M597.8,610 L599.6,612.6"/>
<!-- left buttons -->
<g fill="none" stroke="#222" stroke-width="0.9">
<ellipse cx="631.6" cy="617.2" rx="3.9" ry="5.5" transform="rotate(-8 631.6 617.2)"/>
<ellipse cx="634.2" cy="633.2" rx="3.9" ry="5.5" transform="rotate(-8 634.2 633.2)"/>
<ellipse cx="636.6" cy="649" rx="3.9" ry="5.5" transform="rotate(-8 636.6 649)"/>
<ellipse cx="639.2" cy="665" rx="3.9" ry="5.5" transform="rotate(-8 639.2 665)"/>
</g>
<path d="M629.2,612.6 C630,611.6 631.8,611.4 633.2,612.2 M631.8,628.6 C632.6,627.6 634.4,627.4 635.8,628.2 M634.2,644.4 C635,643.4 636.8,643.2 638.2,644 M636.8,660.4 C637.6,659.4 639.4,659.2 640.8,660" fill="none" stroke="#000" stroke-width="1.6"/>
<!-- display window -->
<path d="M642.8,613.4 C642.6,612 643.4,611.2 644.6,610.6 L690,584 C691.4,583.4 692.4,584 692.6,585.4 L699.4,627.4 C699.6,628.8 699,629.6 697.8,630.2 L653,657.8 C651.6,658.6 650.6,658 650.4,656.6 Z" fill="none" stroke="#222" stroke-width="1"/>
<path d="M646.5,614.6 L678,596.8 L684.5,632.8 L653,652.3 Z" fill="none" stroke="#222" stroke-width="1"/>
<path class="t" d="M648.4,615.8 L677,599.6"/>
<g fill="none" stroke="#222" stroke-width="0.9">
<ellipse cx="687.3" cy="597.6" rx="4.4" ry="5.6" transform="rotate(-8 687.3 597.6)"/>
<ellipse cx="689.6" cy="612" rx="4.4" ry="5.6" transform="rotate(-8 689.6 612)"/>
<ellipse cx="692" cy="625.6" rx="4.4" ry="5.6" transform="rotate(-8 692 625.6)"/>
</g>
<!-- small button -->
<ellipse cx="724.4" cy="589.7" rx="5.6" ry="7.4" fill="none" stroke="#222" stroke-width="0.9" transform="rotate(-8 724.4 589.7)"/>
<path d="M720.6,584.6 C721.8,583 724.4,582.4 726.4,583.4" fill="none" stroke="#000" stroke-width="1.6"/>
<!-- knob ring -->
<ellipse cx="771.9" cy="558.5" rx="12.6" ry="18.3" fill="none" stroke="#555" stroke-width="0.8" transform="rotate(14 771.9 558.5)"/>
<ellipse cx="770.4" cy="557.8" rx="10.8" ry="16" fill="none" stroke="#777" stroke-width="0.6" transform="rotate(14 770.4 557.8)"/>
<ellipse cx="768.1" cy="556.9" rx="9.3" ry="13.7" fill="none" stroke="#222" stroke-width="1.1" transform="rotate(14 768.1 556.9)"/>
<path d="M765.2,555.4 C764.6,557.6 765.2,560.2 767.2,561.2 L771.2,561.6 C773,561 773.8,558.6 773.2,556.6 C772.4,554.6 770.8,553.4 769.2,553.4 L767,553.8 C766,554.2 765.4,554.8 765.2,555.4 Z" fill="none" stroke="#333" stroke-width="0.8"/>
<path class="t" d="M769.6,553.6 C771,555 771.4,558 771.2,561.4"/>
</g>

<!-- ===== 0113 knob (top) ===== -->
<g id="p0113a">
<ellipse cx="733.4" cy="503.4" rx="8.4" ry="9.8" fill="none" stroke="#222" stroke-width="1.1" transform="rotate(20 733.4 503.4)"/>
<ellipse cx="733.8" cy="503.2" rx="6" ry="7.4" fill="none" stroke="#444" stroke-width="0.7" transform="rotate(20 733.8 503.2)"/>
<path class="l" d="M725.6,497.4 L723.2,498.6 L722.8,501.6 L724.4,502.6 L723.6,506 L725.8,510.6 L729,513.4 L732.6,513.4"/>
<path class="t" d="M731.2,502 C732.6,501 735.4,501.4 735.8,503 L731.6,504.4 Z M727.2,497 L729,499.8 M724.4,502.6 L727,503.2"/>
</g>

<!-- ===== 0113 knob (right) ===== -->
<g id="p0113b">
<path class="l" d="M822.6,587.6 C820.8,588 820.4,590.6 822,591.6 L834.8,597.8 L836.8,593.6 L824.4,587.8 C823.8,587.5 823.2,587.4 822.6,587.6 Z"/>
<path d="M826.6,589.6 L825.2,592.8 M829.6,590.8 L828.4,594.2 M831.6,591.8 L830.4,595.2" stroke="#222" stroke-width="1.1"/>
<ellipse cx="843.4" cy="605.6" rx="12" ry="16.6" transform="rotate(22 843.4 605.6)" fill="#fff" stroke="#222" stroke-width="1.15"/>
<polygon points="847.9,589.7 859.9,591.9 850.9,623.7 838.9,621.5" fill="#fff"/>
<path d="M847.9,589.7 L859.9,591.9 M838.9,621.5 L850.9,623.7" stroke="#222" stroke-width="1.2"/>
<ellipse cx="855.4" cy="607.8" rx="12" ry="16.6" transform="rotate(22 855.4 607.8)" fill="#fff" stroke="#222" stroke-width="1.15"/>
<path d="M854,594.4 L856,601.6" stroke="#222" stroke-width="1.1"/>
<path d="M843,599.2 L846.8,600.8 M838.8,609 L842.4,610.8 M838.8,617.6 L842.4,619.6" stroke="#555" stroke-width="1.2"/>
</g>

<!-- ===== 0132 clip ===== -->
<g id="p0132">
<path class="l" d="M819.5,426.9 L823,424.9 L829.3,428.3 L835.6,433.7 L839.1,436.6 L839.6,447.9 L836.6,448.3 L821,440 L819.5,438.6 Z"/>
<path class="l" style="stroke-width:1" d="M823,424.9 L823.4,427.8 L823.4,439.8 M823.4,427.8 L836.4,436 L836.6,448.3 M836.4,436 L839.1,436.6"/>
<path class="t" d="M823.6,433 L829.3,437.2 L823.6,440.4 M826.6,434.6 L826.8,441.6 M837.8,441.6 L839.4,441.4"/>
<path d="M824.6,429.6 L835,435" stroke="#222" stroke-width="1.5"/>
<rect x="833.6" y="440" width="1.8" height="2.2" fill="none" stroke="#333" stroke-width="0.7"/>
</g>

<!-- ===== 0116 drawer front ===== -->
<g id="p0116">
<path class="l" style="stroke-width:1.2" d="M563.4,759.7 L684.1,691.3 C687.6,689.8 691.4,691.4 693.4,695.2 C698.6,722 703.6,750 707.5,779.6 L582.1,844.1 C579.6,844.6 577.8,843.4 577.4,841.7 L563.4,828.8 Z"/>
<path class="l" d="M563.6,760.2 C567,759.6 570.6,759.4 573.9,759.7 L693,696"/>
<path class="t" d="M573.9,759.7 C578,786 582.6,815 586.8,842.9 M564.4,761.6 C568.6,786 572.8,812 577.4,841.7"/>
<!-- handle recess -->
<path class="t" style="stroke:#333;stroke-width:0.9" d="M603.3,792 L603.3,785.5 L676.6,746.5 C677.8,746.2 678.4,747.2 678.5,749.3 C679.6,757 680.8,765 681.3,772.5 C681.6,777 680.6,780 678.5,781.7 L613.6,817 C610.6,818 608,816.6 607,814.2 C605.6,808 604.6,800 604.3,793.8"/>
<path class="l" style="stroke-width:1.3" d="M603.3,792 L677.6,753 L677.6,748.6"/>
<path class="t" style="stroke:#333;stroke-width:0.9" d="M610.8,790.1 L611.7,794.3 L660,769.7 L659.6,766.6 M605.2,793.8 C606,800 607.4,806 608.9,811.4 L677.6,775.3 C678.2,768 677.6,761 676.6,755.8"/>
</g>

<!-- ===== 0120 cover plates ===== -->
<g id="p0120">
<path class="l" style="stroke-width:1.2" d="M841.9,655.1 L903.2,620.3 L913.9,688.5 L852.7,721.8 Z"/>
<ellipse cx="880.2" cy="669.6" rx="8.3" ry="13.6" fill="none" stroke="#1c1c1c" stroke-width="1.3" transform="rotate(19 880.2 669.6)"/>
<path class="l" style="stroke-width:1.2" d="M869.9,727.8 L949.4,684.2 C951.4,683.4 953.6,684 955,685.4 C960.6,712 966,740 969.8,769.4 L893.5,818.5 C892.4,819.2 891.6,818.6 891.4,817.4 C889.6,790 886,760 882.7,743.3 C879.4,735.6 875,731 869.9,727.8 Z"/>
<path class="t" d="M884.9,732.5 L952.6,690.6 M874.6,730.6 C879.4,736 882.4,742 883.6,746.4 C886.6,770 889.6,795 891.6,818"/>
<rect x="940.6" y="689.4" width="2.4" height="2.2" fill="none" stroke="#333" stroke-width="0.6" transform="rotate(-28 941.8 690.5)"/>
<ellipse cx="927.2" cy="751.6" rx="11.9" ry="18.9" fill="none" stroke="#2a2a2a" stroke-width="1.15" transform="rotate(17 927.2 751.6)"/>
</g>

<!-- ===== 0199 icon ===== -->
<g id="icon199">
<rect x="971.6" y="237" width="35.8" height="34.6" fill="none" stroke="#333" stroke-width="1.2"/>
<polygon points="972.2,238 982,238 988.5,251 982,263.3 972.2,263.3" fill="none" stroke="#111" stroke-width="0.9"/>
<line x1="972.2" y1="238.2" x2="981.5" y2="238.2" stroke="#111" stroke-width="1.4"/>
<line x1="972.2" y1="263.2" x2="981.5" y2="263.2" stroke="#111" stroke-width="1.2"/>
<path d="M972.2,242.5 A8.5,8.5 0 0 1 972.2,259.5" fill="none" stroke="#888" stroke-width="0.6"/>
<path d="M998.2,240 C1003,240.2 1005.3,244 1005.3,246.3 C1005.3,249.2 1003.2,251.5 1001.6,252 L1001.8,271 L996,271 L996.2,252.2 C993.6,251.4 991.2,249 991.2,245.6 C993.2,246.8 994.8,248.2 996.6,248.4 C998.8,248.4 1000.6,246.4 1000.6,244.6 C1000.6,242.6 999.6,241.2 998.2,240 Z" fill="#000"/>
</g>

</g>
</svg>
</body></html>
